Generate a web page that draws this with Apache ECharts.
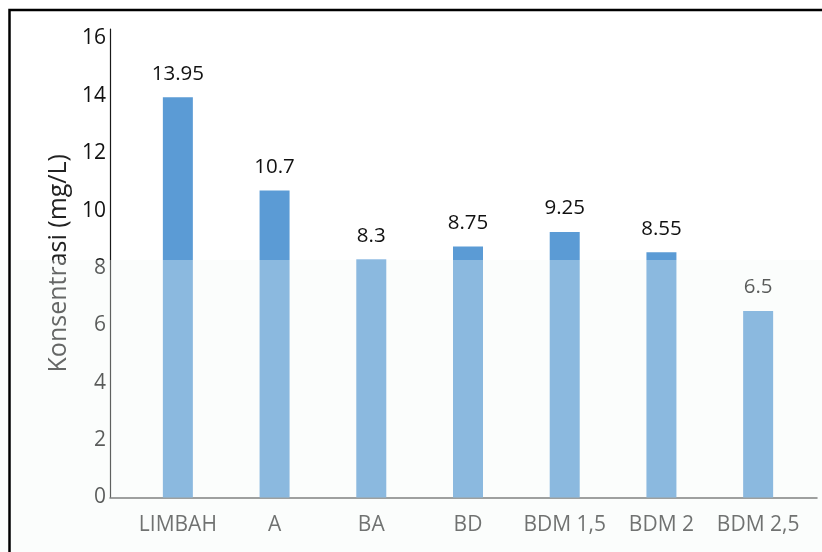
<!DOCTYPE html>
<html>
<head>
<meta charset="utf-8">
<script src="https://cdn.jsdelivr.net/npm/echarts@6/dist/echarts.min.js"></script>
<style>
  html, body { margin: 0; padding: 0; background: #fff; }
  #chart { width: 822px; height: 552px; }
</style>
</head>
<body>
<div id="chart"></div>
<script>
// Sample labels and measured concentrations (mg/L)
const categories = ['LIMBAH', 'A', 'BA', 'BD', 'BDM 1,5', 'BDM 2', 'BDM 2,5'];
const concentration = [13.95, 10.7, 8.3, 8.75, 9.25, 8.55, 6.5];
const yTicks = { min: 0, max: 16, step: 2 };

const FONT = '"Open Sans", "DejaVu Sans", sans-serif';
const chart = echarts.init(document.getElementById('chart'));

const plotTop = 29, plotBottom = 54.5;
// value range extended slightly past the last tick so the axis line overshoots 16
const yMaxExt = yTicks.max + 0.33;

chart.setOption({
  animation: false,
  backgroundColor: '#ffffff',
  grid: [
    { left: 129.5, right: 15.5, top: plotTop, bottom: plotBottom },
    { left: 110, right: 5, top: plotTop, bottom: plotBottom }
  ],
  xAxis: [
    {
      type: 'category', gridIndex: 0, data: categories,
      axisLine: { show: false }, axisTick: { show: false },
      axisLabel: { interval: 0, fontFamily: FONT, fontSize: 21, color: '#333', margin: 17 }
    },
    {
      type: 'value', gridIndex: 1, min: 0, max: 1,
      axisLine: { show: true, onZero: false, lineStyle: { color: '#4a4a4a', width: 1.5 } },
      axisTick: { show: false }, axisLabel: { show: false }, splitLine: { show: false }
    }
  ],
  yAxis: [
    {
      type: 'value', gridIndex: 0, min: yTicks.min, max: yMaxExt,
      show: false, splitLine: { show: false }
    },
    {
      type: 'value', gridIndex: 1, min: yTicks.min, max: yMaxExt, interval: yTicks.step,
      axisLine: { show: true, lineStyle: { color: '#1a1a1a', width: 1.2 } },
      axisTick: { show: false }, splitLine: { show: false },
      axisLabel: {
        fontFamily: FONT, fontSize: 21, color: '#111', margin: 4,
        showMaxLabel: false
      },
      name: 'Konsentrasi (mg/L)', nameLocation: 'middle', nameGap: 38, nameRotate: 90,
      nameTextStyle: { fontFamily: FONT, fontSize: 25, color: '#222' }
    }
  ],
  series: [{
    type: 'bar', xAxisIndex: 0, yAxisIndex: 0,
    data: concentration,
    barWidth: 30,
    itemStyle: { color: '#5B9BD5' },
    label: {
      show: true, position: 'top', distance: 13,
      fontFamily: FONT, fontSize: 20.5, color: '#111'
    }
  }],
  graphic: [
    // light haze over the lower part of the page
    {
      type: 'rect', z: 100, silent: true,
      shape: { x: 0, y: 260, width: 822, height: 292 },
      style: { fill: 'rgba(243,250,246,0.32)' }
    },
    // page frame
    {
      type: 'rect', z: 101, silent: true,
      shape: { x: 9.5, y: 10, width: 900, height: 700 },
      style: { fill: 'none', stroke: '#000', lineWidth: 2.5 }
    }
  ]
});
</script>
</body>
</html>
